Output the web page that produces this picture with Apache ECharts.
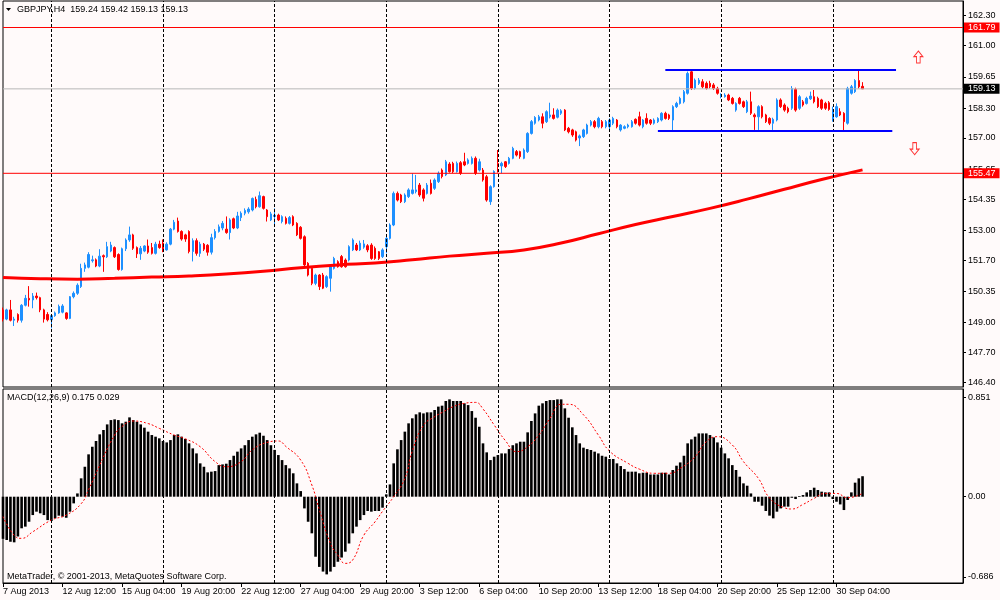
<!DOCTYPE html>
<html>
<head>
<meta charset="utf-8">
<title>GBPJPY,H4</title>
<script src="https://cdn.jsdelivr.net/npm/echarts@6/dist/echarts.min.js"></script>
<style>
html, body { margin: 0; padding: 0; background: #fffafa; }
#chart { width: 1000px; height: 600px; }
</style>
</head>
<body>
<div id="chart"></div>
<script>
var FONT = 'Liberation Sans';

// H4 bars, 7 Aug 2013 20:00 .. 1 Oct 2013 08:00
var barOpen = [
    149.55,149.15,149.55,149.10,149.35,149.10,149.75,150.05,149.98,150.15,
    150.08,149.55,149.35,149.12,149.30,149.42,149.45,149.42,149.18,150.12,
    150.27,150.56,151.35,151.40,151.68,151.72,151.45,151.90,151.85,152.10,
    152.25,151.95,151.30,152.20,152.58,152.80,152.25,151.98,152.10,152.32,
    152.25,152.00,152.40,152.45,152.15,152.40,153.05,153.40,152.95,152.80,
    152.95,152.08,152.55,152.00,152.40,152.35,152.05,152.68,152.95,153.10,
    153.05,152.90,153.50,153.10,153.55,153.74,153.80,153.88,154.34,154.02,
    154.46,153.88,153.45,153.60,153.66,153.38,153.52,153.30,153.59,153.30,
    153.13,152.72,151.57,151.35,150.70,151.06,151.06,150.56,150.92,151.35,
    151.64,151.86,151.71,151.71,152.15,152.36,152.15,152.27,152.33,152.36,
    152.22,152.07,151.86,152.29,152.65,153.23,154.60,154.53,154.24,154.46,
    154.60,154.68,154.96,154.75,154.60,155.04,154.82,155.11,155.61,155.40,
    155.87,155.90,155.54,155.93,155.97,155.90,155.90,156.12,155.61,155.61,
    155.32,154.24,154.89,155.90,155.79,155.97,155.90,156.12,156.41,156.41,
    156.12,156.41,157.20,157.64,157.78,157.92,157.71,157.92,158.00,157.90,
    158.07,158.21,157.42,157.35,157.27,157.00,157.06,157.20,157.56,157.71,
    157.49,157.71,157.49,157.49,157.64,157.78,157.35,157.42,157.49,157.49,
    157.81,157.92,157.49,157.85,157.78,157.64,157.71,157.78,158.07,158.00,
    157.78,158.36,158.50,158.57,158.94,159.87,159.15,159.37,159.44,159.37,
    159.37,159.30,159.15,158.79,158.79,158.86,158.72,158.21,158.72,158.57,
    158.14,158.57,158.00,157.92,158.36,158.00,157.85,157.64,157.78,158.65,
    158.43,158.29,158.29,159.11,158.29,158.57,158.50,158.70,158.79,158.72,
    158.65,158.50,158.53,157.78,157.92,158.14,158.07,157.64,158.94,159.01,
    159.49,159.24
];
var barClose = [
    149.15,149.55,149.10,149.15,149.10,149.75,150.05,149.98,150.15,150.08,
    149.55,149.15,149.12,149.30,149.42,149.70,149.72,149.18,150.12,150.27,
    150.62,151.35,151.50,151.95,151.72,151.45,151.88,151.85,152.29,152.36,
    151.85,151.30,152.20,152.58,152.80,152.22,151.98,152.22,152.32,152.05,
    152.00,152.40,152.25,152.15,152.40,153.05,153.35,152.95,152.62,152.62,
    152.08,152.55,152.00,152.40,152.18,152.05,152.68,152.95,153.15,153.30,
    152.90,153.45,153.10,153.62,153.74,153.86,153.92,154.38,154.02,154.50,
    153.95,153.59,153.71,153.65,153.45,153.59,153.30,153.55,153.23,152.80,
    152.65,151.50,151.06,150.70,151.06,150.56,150.49,150.99,151.42,151.78,
    151.42,151.42,151.42,152.29,152.58,152.15,152.44,152.41,152.15,151.78,
    151.78,151.78,152.15,152.65,153.23,154.60,154.31,154.24,154.53,154.75,
    154.75,154.75,154.53,154.39,154.96,154.60,155.18,155.47,155.33,155.97,
    155.54,155.54,155.90,155.47,155.83,156.05,156.12,155.47,155.97,155.18,
    154.31,154.89,155.55,155.76,155.90,155.76,156.12,156.55,156.26,156.19,
    156.48,157.20,157.71,157.89,157.92,157.64,158.14,158.00,157.85,158.21,
    158.18,157.35,157.27,157.13,156.91,157.09,157.35,157.56,157.71,157.49,
    157.85,157.49,157.71,157.78,157.85,157.49,157.56,157.49,157.56,157.71,
    157.64,157.56,157.78,157.64,157.64,157.78,157.85,158.07,157.85,157.85,
    158.36,158.50,158.72,159.01,159.80,159.15,159.51,159.51,159.22,159.15,
    159.22,159.15,158.94,158.86,158.86,158.65,158.50,158.50,158.50,158.36,
    158.57,158.07,157.92,158.36,157.92,157.71,157.64,157.81,158.65,158.36,
    158.21,158.14,159.15,158.21,158.79,158.43,158.72,158.82,158.57,158.36,
    158.29,158.29,158.24,158.21,158.36,158.00,157.71,159.15,159.22,159.49,
    159.22,159.13
];
var barLow = [
    149.05,149.10,149.05,148.85,149.00,149.00,149.70,149.69,149.62,150.00,
    149.45,149.00,149.05,148.75,149.25,149.38,149.40,149.12,149.15,150.05,
    150.20,150.50,151.20,151.35,151.60,151.40,151.40,151.20,151.80,152.05,
    151.80,151.25,151.25,152.10,152.50,152.15,151.80,151.72,152.05,151.98,
    151.95,151.95,152.20,152.05,152.12,152.35,153.00,152.90,152.55,152.50,
    152.00,151.65,151.90,151.85,152.10,151.90,151.95,152.60,152.90,153.00,
    152.85,152.60,153.05,153.05,153.40,153.65,153.72,153.82,153.95,153.98,
    153.90,153.38,153.40,153.16,153.40,153.30,153.25,153.25,153.18,152.75,
    152.60,151.45,151.00,150.62,150.62,150.41,150.45,150.50,150.34,151.30,
    151.38,151.38,151.38,151.65,152.10,152.10,152.10,152.20,152.05,151.72,
    151.72,151.71,151.80,152.00,152.60,153.18,154.25,154.18,154.18,154.40,
    154.55,154.60,154.45,154.25,154.55,154.55,154.75,155.05,155.25,155.35,
    155.50,155.48,155.50,155.40,155.78,155.85,155.85,155.40,155.55,155.11,
    154.24,154.10,154.85,155.50,155.47,155.70,155.85,156.08,156.20,156.10,
    156.08,156.35,157.15,157.58,157.72,157.42,157.65,157.85,157.80,157.85,
    158.00,157.30,157.20,157.05,156.85,156.65,157.00,157.15,157.50,157.42,
    157.42,157.42,157.42,157.27,157.56,157.42,157.28,157.38,157.42,157.45,
    157.58,157.50,157.42,157.58,157.56,157.58,157.65,157.72,157.80,157.78,
    157.30,158.30,158.45,158.50,158.88,159.08,159.10,159.30,159.15,159.10,
    159.15,159.08,158.88,158.72,158.75,158.60,158.45,158.14,158.45,158.30,
    158.08,158.00,157.35,157.35,157.85,157.65,157.56,157.35,157.72,158.30,
    158.14,158.07,158.22,158.14,158.22,158.36,158.45,158.65,158.50,158.30,
    158.22,158.22,158.18,157.71,157.88,157.95,157.30,157.58,158.88,158.95,
    159.15,159.13
];
var barHigh = [
    149.65,149.60,149.98,149.25,149.40,149.80,150.20,150.58,150.28,150.30,
    150.12,149.60,149.45,149.35,149.48,149.78,149.80,149.45,150.15,150.35,
    150.70,151.55,151.60,152.05,151.90,151.78,152.18,151.95,152.50,152.50,
    152.30,152.00,152.25,152.65,153.16,152.85,152.30,152.32,152.35,152.60,
    152.45,152.50,152.55,152.60,152.48,153.10,153.45,153.55,153.00,152.85,
    153.00,152.65,152.65,152.50,152.45,152.40,152.85,153.05,153.25,153.40,
    153.60,153.52,153.55,153.80,153.82,153.95,154.00,154.42,154.46,154.68,
    154.50,153.92,153.80,153.95,153.72,153.65,153.60,153.62,153.65,153.35,
    153.18,152.78,151.62,151.40,151.12,151.10,151.15,151.05,151.50,151.85,
    151.70,151.93,151.78,152.35,152.65,152.45,152.55,152.58,152.40,152.44,
    152.30,152.10,152.22,152.72,153.30,154.68,154.68,154.58,154.60,154.82,
    155.47,155.40,155.05,154.82,155.05,155.20,155.25,155.55,155.68,156.05,
    155.95,155.97,155.98,156.00,156.36,156.12,156.20,156.20,156.10,155.70,
    155.40,154.95,155.60,156.48,155.97,156.00,156.18,156.62,156.48,156.45,
    156.55,157.25,157.78,157.95,158.00,158.07,158.20,158.53,158.29,158.28,
    158.25,158.25,157.48,157.40,157.32,157.15,157.40,157.62,157.78,157.78,
    157.92,157.78,157.78,157.85,157.92,157.82,157.60,157.55,157.62,157.78,
    157.85,158.14,157.82,158.07,157.82,157.85,157.90,158.12,158.14,158.05,
    158.42,158.57,158.79,159.08,159.88,159.97,159.58,159.60,159.55,159.45,
    159.48,159.38,159.22,158.94,158.94,158.92,158.78,158.55,158.78,158.62,
    158.65,159.01,158.07,158.42,158.42,158.05,157.90,157.88,158.72,158.72,
    158.50,158.36,159.25,159.18,158.86,158.65,158.79,159.01,159.08,158.79,
    158.70,158.57,158.60,158.36,158.50,158.29,158.12,159.22,159.30,159.55,
    159.97,159.42
];

// moving average: [bar index, value]
var maPoints = [
    [0,150.95],[10,150.90],[20,150.88],[30,150.92],[40,150.97],[50,151.02],
    [60,151.10],[70,151.22],[80,151.38],[90,151.50],[100,151.58],[110,151.72],
    [120,151.88],[130,152.00],[140,152.15],[150,152.45],[160,152.85],[170,153.25],
    [180,153.60],[190,153.95],[200,154.35],[210,154.78],[220,155.20],[231,155.62]
];

// MACD(12,26,9) main histogram, one value per bar
var macdMain = [
    -0.36,-0.37,-0.385,-0.39,-0.34,-0.27,-0.256,-0.214,-0.157,-0.128,
    -0.142,-0.157,-0.20,-0.208,-0.185,-0.162,-0.171,-0.18,-0.128,-0.057,
    0.028,0.157,0.256,0.362,0.427,0.476,0.533,0.57,0.618,0.655,
    0.661,0.655,0.627,0.641,0.678,0.655,0.641,0.618,0.59,0.556,
    0.527,0.513,0.499,0.476,0.464,0.484,0.527,0.533,0.513,0.493,
    0.456,0.413,0.37,0.285,0.256,0.208,0.214,0.219,0.27,0.276,
    0.282,0.313,0.35,0.385,0.413,0.44,0.484,0.513,0.533,0.547,
    0.521,0.484,0.44,0.40,0.356,0.313,0.27,0.242,0.20,0.114,
    0.048,-0.10,-0.214,-0.313,-0.513,-0.60,-0.64,-0.664,-0.64,-0.60,
    -0.556,-0.52,-0.47,-0.40,-0.313,-0.256,-0.20,-0.157,-0.122,-0.128,
    -0.122,-0.122,-0.094,0.02,0.105,0.285,0.405,0.484,0.556,0.627,
    0.67,0.704,0.721,0.712,0.721,0.721,0.741,0.77,0.778,0.818,
    0.832,0.818,0.818,0.818,0.798,0.783,0.732,0.675,0.598,0.456,
    0.379,0.313,0.342,0.356,0.37,0.37,0.407,0.44,0.456,0.47,
    0.47,0.55,0.647,0.712,0.778,0.798,0.818,0.826,0.826,0.832,
    0.832,0.755,0.675,0.593,0.527,0.456,0.419,0.407,0.399,0.385,
    0.37,0.35,0.342,0.322,0.322,0.285,0.262,0.236,0.214,0.214,
    0.214,0.20,0.205,0.205,0.19,0.19,0.19,0.205,0.205,0.19,
    0.228,0.265,0.293,0.35,0.456,0.49,0.513,0.541,0.541,0.541,
    0.527,0.507,0.464,0.419,0.37,0.328,0.27,0.228,0.171,0.114,
    0.094,0.028,-0.043,-0.043,-0.077,-0.122,-0.162,-0.185,-0.128,-0.10,
    -0.085,-0.085,-0.009,-0.02,0.006,0.014,0.037,0.057,0.077,0.057,
    0.043,0.037,0.037,-0.02,-0.043,-0.066,-0.114,-0.028,0.037,0.12,
    0.157,0.175
];

// signal line: [bar index, value]
var signalPoints = [
    [0,-0.17],[3,-0.33],[5,-0.356],[8,-0.30],[13,-0.20],[17,-0.157],[21,-0.06],
    [23,0.06],[26,0.27],[30,0.527],[32,0.60],[35,0.647],[39,0.625],[42,0.584],
    [46,0.527],[49,0.495],[53,0.427],[57,0.30],[60,0.256],[64,0.30],[67,0.40],
    [71,0.464],[74,0.476],[76,0.43],[80,0.313],[83,0.10],[85,-0.11],[88,-0.40],
    [90,-0.50],[92,-0.57],[94,-0.54],[97,-0.328],[100,-0.214],[102,-0.125],
    [105,0.0],[108,0.157],[110,0.39],[113,0.61],[116,0.684],[118,0.72],[121,0.77],
    [124,0.798],[127,0.806],[129,0.75],[132,0.613],[135,0.48],[138,0.385],
    [141,0.427],[144,0.527],[147,0.67],[150,0.79],[152,0.79],[156,0.70],
    [160,0.527],[163,0.39],[168,0.285],[171,0.236],[175,0.20],[179,0.20],
    [182,0.242],[186,0.342],[189,0.47],[192,0.513],[196,0.442],[199,0.30],
    [203,0.157],[206,-0.01],[210,-0.094],[212,-0.105],[215,-0.066],[218,-0.014],
    [221,0.028],[224,0.028],[227,-0.009],[231,0.029]
];

var priceTicks = [146.40,147.70,149.00,150.35,151.70,153.00,154.35,155.65,157.00,158.30,159.65,161.00,162.30];
var macdTicks = [0.851, 0, -0.686];
var macdTickText = ['0.851', '0.00', '-0.686'];

var xLabelIdx = [0,16,32,48,64,80,96,112,128,144,160,176,192,208,224];
var xLabelText = ['7 Aug 2013','12 Aug 12:00','15 Aug 04:00','19 Aug 20:00','22 Aug 12:00',
    '27 Aug 04:00','29 Aug 20:00','3 Sep 12:00','6 Sep 04:00','10 Sep 20:00',
    '13 Sep 12:00','18 Sep 04:00','20 Sep 20:00','25 Sep 12:00','30 Sep 04:00'];

// weekly period separators (Monday 00:00 bars)
var weekSeps = [13,43,73,103,133,163,193,223];

var resistance = 161.79;
var support = 155.47;
var bid = 159.13;
var channelTop = [[178,159.98],[240,159.98]];
var channelBottom = [[176,157.32],[239,157.32]];
var upArrow = [[246,160.51]];
var downArrow = [[245,156.54]];

// time slots: H4 bars without weekends, plus empty space on the right
var slotCount = 259;
var categories = [];
var t = Date.UTC(2013, 7, 7, 20);
while (categories.length < slotCount) {
    var d = new Date(t);
    var wd = d.getUTCDay();
    if (wd != 0 && wd != 6) {
        categories.push(d.toISOString().slice(0, 16));
    }
    t += 4 * 3600 * 1000;
}

var candles = barOpen.map(function(o, i) {
    return [o, barClose[i], barLow[i], barHigh[i]];
});

function isLabelIdx(index) {
    return xLabelIdx.indexOf(index) >= 0;
}

function sepLines() {
    return weekSeps.map(function(i) {
        return {xAxis: i};
    });
}
var sepStyle = {color: '#000', width: 1, type: [3, 2]};

function priceLineSeries(name, v, lineColor, bg) {
    // horizontal price level across the whole window, value box at the right
    return {
        name: name,
        type: 'line',
        xAxisIndex: 0, yAxisIndex: 0,
        data: [[0, v], [slotCount - 1, v]],
        showSymbol: false,
        silent: true,
        z: 10,
        color: lineColor,
        itemStyle: {color: lineColor},
        lineStyle: {color: lineColor, width: 1, type: 'solid', opacity: 1},
        endLabel: {
            show: true,
            distance: 1,
            formatter: v.toFixed(2),
            color: '#fff',
            backgroundColor: bg,
            padding: [1, 4, 0, 4],
            fontSize: 9,
            fontFamily: FONT
        }
    };
}

var arrowPath = 'path://M5,0L10,6L7,6L7,13L3,13L3,6L0,6Z';

var myChart = echarts.init(document.getElementById('chart'));
myChart.setOption({
    backgroundColor: '#fffafa',
    animation: false,
    textStyle: {fontFamily: FONT},
    grid: [
        {left: 3, right: 37, top: 1, height: 386, show: true, borderColor: '#000', borderWidth: 1},
        {left: 3, right: 37, top: 389, height: 194, show: true, borderColor: '#000', borderWidth: 1}
    ],
    xAxis: [
        {
            type: 'category', gridIndex: 0, data: categories, boundaryGap: false,
            axisLine: {show: false, onZero: false}, axisTick: {show: false},
            axisLabel: {show: false}, splitLine: {show: false}
        },
        {
            type: 'category', gridIndex: 1, data: categories, boundaryGap: false,
            axisLine: {onZero: false, lineStyle: {color: '#000'}},
            axisTick: {interval: isLabelIdx, length: 4, lineStyle: {color: '#000'}},
            axisLabel: {
                interval: isLabelIdx,
                formatter: function(value, index) {
                    return xLabelText[xLabelIdx.indexOf(index)];
                },
                align: 'left', margin: 4, color: '#000', fontSize: 9, fontFamily: FONT
            },
            splitLine: {show: false}
        }
    ],
    yAxis: [
        {
            type: 'value', gridIndex: 0, position: 'right', min: 146.207, max: 162.939,
            splitLine: {show: false},
            axisLine: {show: true, onZero: false, lineStyle: {color: '#000'}},
            axisTick: {show: true, length: 3, customValues: priceTicks, lineStyle: {color: '#000'}},
            axisLabel: {
                customValues: priceTicks,
                formatter: function(v) { return v.toFixed(2); },
                margin: 5, color: '#000', fontSize: 9, fontFamily: FONT
            }
        },
        {
            type: 'value', gridIndex: 1, position: 'right', min: -0.7376, max: 0.9205,
            splitLine: {show: false},
            axisLine: {show: true, onZero: false, lineStyle: {color: '#000'}},
            axisTick: {show: true, length: 3, customValues: macdTicks, lineStyle: {color: '#000'}},
            axisLabel: {
                customValues: macdTicks,
                formatter: function(v) {
                    var best = 0;
                    for (var k = 1; k < macdTicks.length; k++) {
                        if (Math.abs(macdTicks[k] - v) < Math.abs(macdTicks[best] - v)) best = k;
                    }
                    return macdTickText[best];
                },
                margin: 5, color: '#000', fontSize: 9, fontFamily: FONT
            }
        }
    ],
    series: [
        priceLineSeries('bid', bid, '#b8b8b8', '#000000'),
        {
            name: 'GBPJPY',
            type: 'candlestick',
            xAxisIndex: 0, yAxisIndex: 0,
            data: candles,
            barWidth: 2,
            itemStyle: {
                color: '#1e90ff', color0: '#ff0000',
                borderColor: '#1e90ff', borderColor0: '#ff0000',
                borderWidth: 1
            },
            markLine: {
                silent: true,
                symbol: ['none', 'none'],
                label: {show: false},
                lineStyle: sepStyle,
                data: sepLines()
            }
        },
        {
            name: 'MA',
            type: 'line',
            xAxisIndex: 0, yAxisIndex: 0,
            data: maPoints,
            smooth: true,
            showSymbol: false,
            lineStyle: {color: '#ff0000', width: 3}
        },
        {
            name: 'channel',
            type: 'line',
            xAxisIndex: 0, yAxisIndex: 0,
            data: [],
            markLine: {
                silent: true,
                symbol: ['none', 'none'],
                label: {show: false},
                lineStyle: {color: '#0000ff', width: 2, type: 'solid'},
                data: [
                    [{coord: channelTop[0]}, {coord: channelTop[1]}],
                    [{coord: channelBottom[0]}, {coord: channelBottom[1]}]
                ]
            }
        },
        {
            name: 'up',
            type: 'scatter',
            xAxisIndex: 0, yAxisIndex: 0,
            data: upArrow,
            symbol: arrowPath,
            symbolSize: [9, 12],
            itemStyle: {color: '#fffafa', borderColor: '#ff0000', borderWidth: 1}
        },
        {
            name: 'down',
            type: 'scatter',
            xAxisIndex: 0, yAxisIndex: 0,
            data: downArrow,
            symbol: arrowPath,
            symbolRotate: 180,
            symbolSize: [9, 12],
            itemStyle: {color: '#fffafa', borderColor: '#ff0000', borderWidth: 1}
        },
        {
            name: 'MACD',
            type: 'bar',
            xAxisIndex: 1, yAxisIndex: 1,
            data: macdMain,
            barWidth: '70%',
            itemStyle: {color: '#000000'},
            markLine: {
                silent: true,
                symbol: ['none', 'none'],
                label: {show: false},
                lineStyle: sepStyle,
                data: sepLines()
            }
        },
        {
            name: 'Signal',
            type: 'line',
            xAxisIndex: 1, yAxisIndex: 1,
            data: signalPoints,
            smooth: true,
            showSymbol: false,
            lineStyle: {color: '#ff0000', width: 1, type: [2, 2]}
        },
        priceLineSeries('support', support, '#ff0000', '#ff0000'),
        priceLineSeries('resistance', resistance, '#ff0000', '#ff0000')
    ],
    graphic: [
        {type: 'polygon', shape: {points: [[6, 8], [11, 8], [8.5, 11]]}, style: {fill: '#000'}},
        {
            type: 'text', x: 17, y: 10,
            style: {text: 'GBPJPY,H4  159.24 159.42 159.13 159.13', fill: '#000',
                    font: '9px "Liberation Sans"', verticalAlign: 'middle'}
        },
        {
            type: 'text', x: 7, y: 398,
            style: {text: 'MACD(12,26,9) 0.175 0.029', fill: '#000',
                    font: '9px "Liberation Sans"', verticalAlign: 'middle'}
        },
        {
            type: 'text', x: 7, y: 577,
            style: {text: 'MetaTrader, \u00a9 2001-2013, MetaQuotes Software Corp.', fill: '#000',
                    font: '9px "Liberation Sans"', verticalAlign: 'middle'}
        }
    ]
});
window.onresize = myChart.resize;
</script>
</body>
</html>
